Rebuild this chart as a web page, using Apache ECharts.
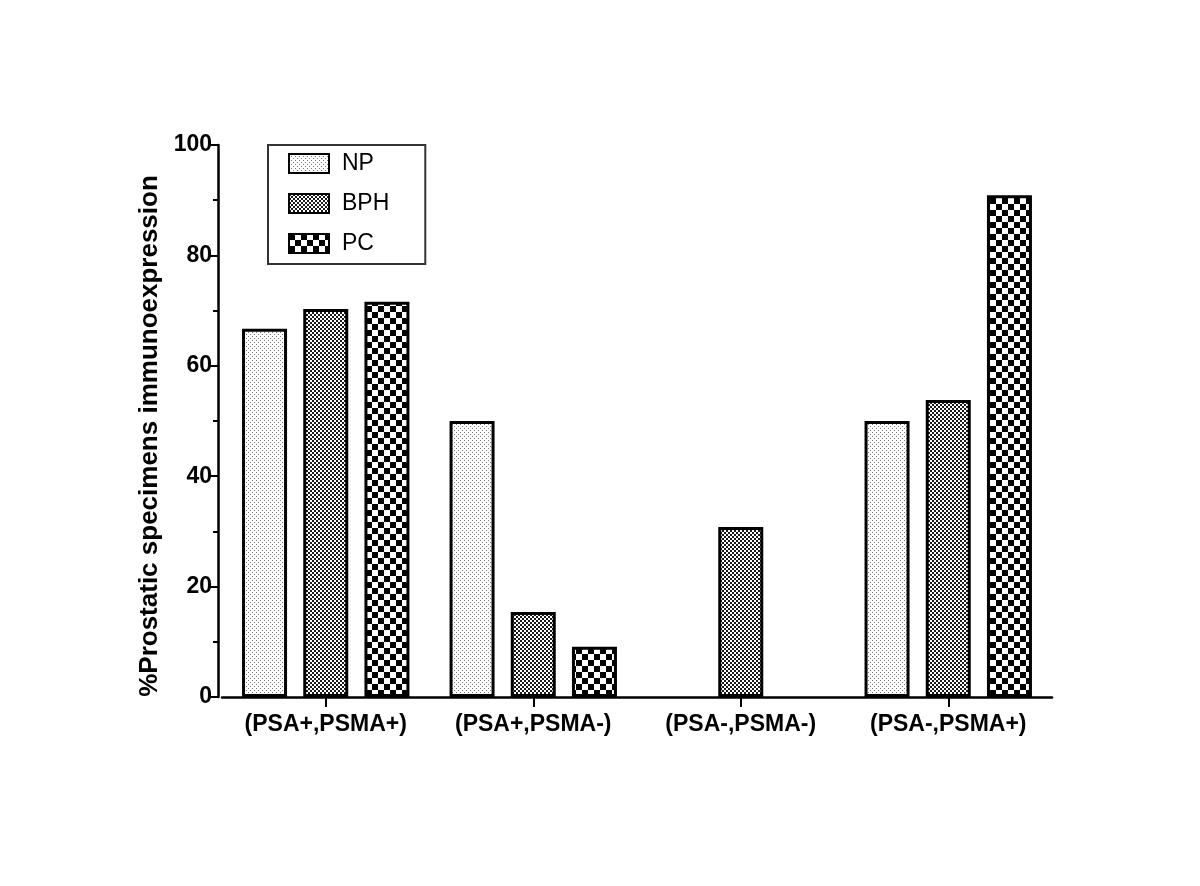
<!DOCTYPE html>
<html>
<head>
<meta charset="utf-8">
<script src="https://cdn.jsdelivr.net/npm/echarts@6/dist/echarts.min.js"></script>
<style>
  html, body { margin: 0; padding: 0; background: #fff; }
  #chart { width: 1200px; height: 886px; }
</style>
</head>
<body>
<div id="chart"></div>
<script>
// data (null = no bar drawn)
var categories = ['(PSA+,PSMA+)', '(PSA+,PSMA-)', '(PSA-,PSMA-)', '(PSA-,PSMA+)'];
var npValues = [66.7, 50, null, 50];
var bphValues = [70.3, 15.4, 30.8, 53.8];
var pcValues = [71.6, 9.1, null, 90.9];
var yTicks = [0, 20, 40, 60, 80, 100];

// fill patterns made on little canvases
function makePattern(size, draw) {
    var c = document.createElement('canvas');
    c.width = size; c.height = size;
    var ctx = c.getContext('2d');
    ctx.fillStyle = '#fff';
    ctx.fillRect(0, 0, size, size);
    draw(ctx);
    return { image: c, repeat: 'repeat' };
}
var npFill = makePattern(4, function (ctx) {
    ctx.fillStyle = '#777';
    ctx.fillRect(0, 0, 1, 1);
    ctx.fillRect(2, 2, 1, 1);
});
var bphFill = makePattern(4, function (ctx) {
    ctx.fillStyle = '#1a1a1a';
    ctx.fillRect(0, 0, 2, 2);
    ctx.fillRect(2, 2, 2, 2);
});
var pcFill = makePattern(12, function (ctx) {
    ctx.fillStyle = '#000';
    ctx.fillRect(0, 0, 6, 6);
    ctx.fillRect(6, 6, 6, 6);
});

var font = 'Liberation Sans, Arial, sans-serif';
var myChart = echarts.init(document.getElementById('chart'));

function barSeries(name, data, fill) {
    return {
        name: name,
        type: 'bar',
        data: data,
        barWidth: 45,
        barGap: '36%',
        itemStyle: {
            color: fill,
            borderColor: '#000',
            borderWidth: 3
        }
    };
}

myChart.setOption({
    backgroundColor: '#fff',
    animation: false,
    grid: {
        left: 222,
        right: 148,
        top: 145,
        bottom: 189
    },
    legend: {
        orient: 'vertical',
        left: 268,
        top: 145,
        padding: [7, 36, 9, 20],
        icon: 'rect',
        itemWidth: 40,
        itemHeight: 19,
        itemGap: 17,
        borderColor: '#333',
        borderWidth: 2,
        borderRadius: 0,
        textStyle: { fontFamily: font, fontSize: 23, color: '#000', padding: [0, 0, 0, 8] },
        data: ['NP', 'BPH', 'PC']
    },
    xAxis: {
        type: 'category',
        data: categories,
        axisLine: { lineStyle: { color: '#000', width: 2.5 } },
        axisTick: { show: true, interval: 0, alignWithLabel: true, length: 10, lineStyle: { color: '#000', width: 2 } },
        axisLabel: { interval: 0, hideOverlap: false, fontFamily: font, fontSize: 23, fontWeight: 'bold', color: '#000', margin: 16 }
    },
    yAxis: {
        type: 'value',
        min: 0,
        max: 100,
        interval: 20,
        offset: 4,
        name: '%Prostatic specimens immunoexpression',
        nameLocation: 'middle',
        nameGap: 52,
        nameTextStyle: { fontFamily: font, fontSize: 26, fontWeight: 'bold', color: '#000', padding: [0, 30, 0, 0] },
        axisLine: { show: true, lineStyle: { color: '#000', width: 2.5 } },
        axisTick: { show: true, length: 9, lineStyle: { color: '#000', width: 2 } },
        minorTick: { show: true, splitNumber: 2, length: 5, lineStyle: { color: '#000', width: 2 } },
        splitLine: { show: false },
        axisLabel: {
            fontFamily: font, fontSize: 23, fontWeight: 'bold', color: '#000', margin: 6,
            formatter: function (v) { return yTicks.indexOf(v) >= 0 ? String(v) : ''; }
        }
    },
    series: [
        barSeries('NP', npValues, npFill),
        barSeries('BPH', bphValues, bphFill),
        barSeries('PC', pcValues, pcFill)
    ]
});
</script>
</body>
</html>
